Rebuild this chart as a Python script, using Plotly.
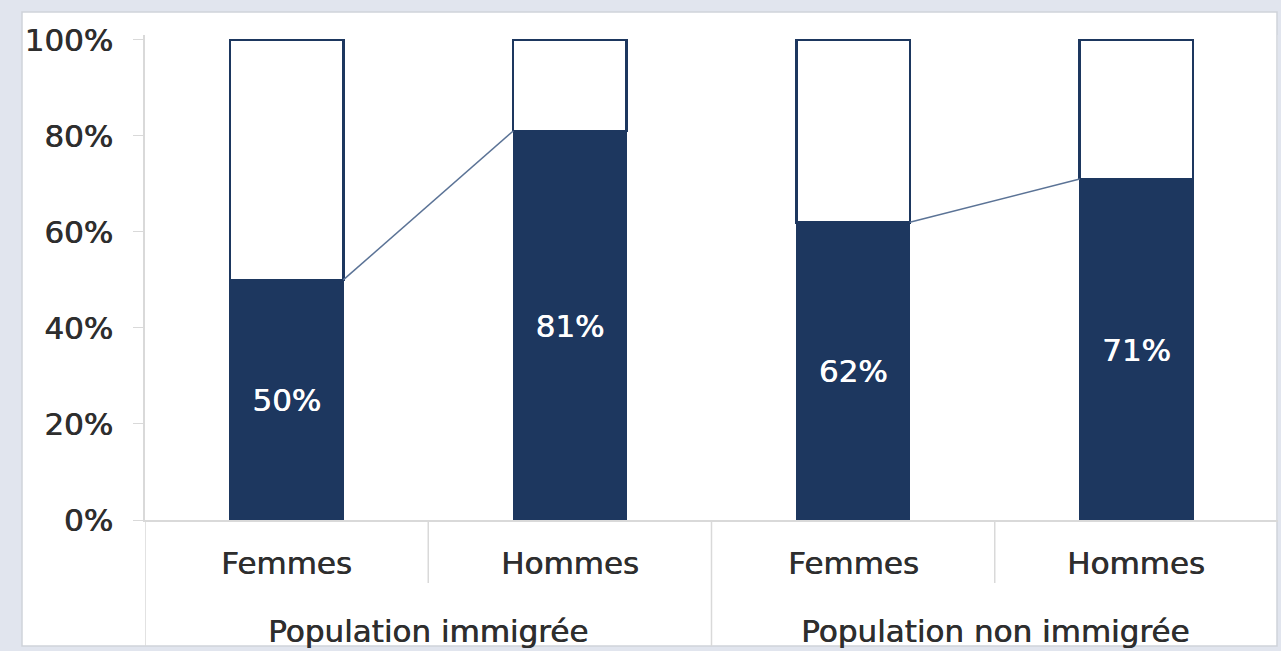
import plotly.graph_objects as go

# ---- data ----
sexes = ["Femmes", "Hommes", "Femmes", "Hommes"]
groups = ["Population immigrée", "Population non immigrée"]
share = [50, 81, 62, 71]            # % dark segment
labels = ["50%", "81%", "62%", "71%"]
ytick_vals = [0, 20, 40, 60, 80, 100]
ytick_text = ["0%", "20%", "40%", "60%", "80%", "100%"]

rest = [100 - v for v in share]
xpos = list(range(len(sexes)))

NAVY = "#1d375f"
TEXT = "#2e2e2e"
AXIS = "#d9d9d9"
FONT = "DejaVu Sans"
FS = 31
BAR_W = 0.4
SH_DARK = "0.6px 0 0 #2e2e2e"
SH_WHITE = "0.6px 0 0 #ffffff"

W, H = 1281, 651
L, R, T, B = 145, 3, 35, 131
PW, PH = W - L - R, H - T - B


def px_x(p):
    return (p - L) / PW


def px_y(p):
    return (H - B - p) / PH


fig = go.Figure()
fig.add_trace(go.Bar(
    x=xpos, y=share, width=BAR_W,
    marker=dict(color=NAVY, line=dict(color=NAVY, width=1)),
    text=labels, textposition="inside", insidetextanchor="middle",
    textangle=0, textfont=dict(color="white", size=FS, family=FONT, shadow=SH_WHITE),
    hoverinfo="skip", showlegend=False,
))
fig.add_trace(go.Bar(
    x=xpos, y=rest, width=BAR_W,
    marker=dict(color="white", line=dict(color=NAVY, width=2.5)),
    hoverinfo="skip", showlegend=False,
))

# series lines connecting dark segments within each group
for g in range(len(groups)):
    i, j = 2 * g, 2 * g + 1
    fig.add_trace(go.Scatter(
        x=[xpos[i] + BAR_W / 2, xpos[j] - BAR_W / 2],
        y=[share[i], share[j]], mode="lines",
        line=dict(color="#5b7396", width=1.5),
        hoverinfo="skip", showlegend=False,
    ))

shapes = [
    # white card
    dict(type="rect", xref="paper", yref="paper", layer="below",
         x0=px_x(22), x1=px_x(1277), y0=px_y(646), y1=px_y(12),
         fillcolor="white", line=dict(color="#cfd3da", width=1.5)),
]
# category dividers
for k in range(len(sexes)):
    xv = k - 0.5
    full = (k % 2 == 0)
    shapes.append(dict(type="line", xref="x", yref="paper",
                       x0=xv, x1=xv, y0=px_y(520), y1=px_y(646 if full else 583),
                       line=dict(color=AXIS, width=1.5)))
fig.update_layout(shapes=shapes)

annotations = []
for i, s in enumerate(sexes):
    annotations.append(dict(x=xpos[i], y=px_y(563), xref="x", yref="paper",
                            yanchor="middle", text=s, showarrow=False,
                            font=dict(size=FS, color=TEXT, family=FONT, shadow=SH_DARK)))
for g, name in enumerate(groups):
    annotations.append(dict(x=(xpos[2 * g] + xpos[2 * g + 1]) / 2, y=px_y(631),
                            xref="x", yref="paper", yanchor="middle",
                            text=name, showarrow=False,
                            font=dict(size=FS, color=TEXT, family=FONT, shadow=SH_DARK)))
fig.update_layout(annotations=annotations)

fig.update_layout(
    width=W, height=H, barmode="stack",
    margin=dict(l=L, r=R, t=T, b=B, pad=0),
    paper_bgcolor="#e1e5ee", plot_bgcolor="white",
    xaxis=dict(range=[-0.5, len(sexes) - 0.5], showticklabels=False,
               showgrid=False, zeroline=False, showline=True,
               linecolor=AXIS, linewidth=1.5, ticks=""),
    yaxis=dict(range=[0, 101], tickvals=ytick_vals, ticktext=ytick_text,
               showgrid=False, zeroline=False, showline=True,
               linecolor=AXIS, linewidth=1.5, ticks="outside", ticklen=10,
               tickcolor=AXIS, ticklabelstandoff=14,
               tickfont=dict(size=FS, color=TEXT, family=FONT, shadow=SH_DARK)),
)

fig.write_html("out.html", config={"displayModeBar": False},
               post_script="document.body.style.margin='0';document.body.style.overflow='hidden';")
